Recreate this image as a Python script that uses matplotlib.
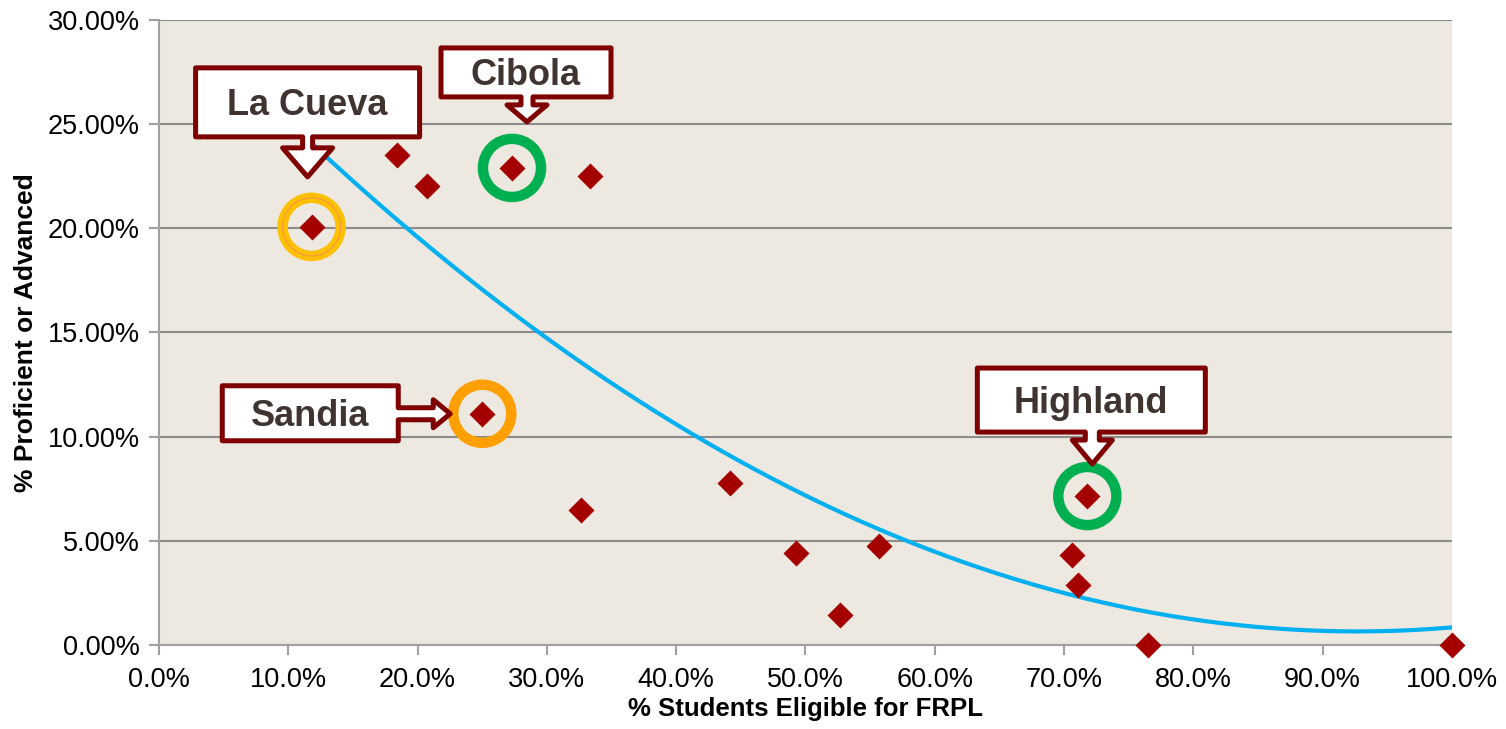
import numpy as np
import matplotlib
matplotlib.use('Agg')
import matplotlib.pyplot as plt
from matplotlib.patches import Polygon
from matplotlib.ticker import PercentFormatter
from matplotlib.transforms import ScaledTranslation

plt.rcParams['font.family'] = ['Liberation Sans', 'DejaVu Sans']

# Data: % eligible for FRPL vs % proficient or advanced
frpl = [11.8, 18.4, 20.7, 27.3, 33.3, 25.0, 32.6, 44.2, 49.3, 52.7, 55.7, 70.6, 71.1, 71.8, 76.5, 100.0]
prof = [20.07, 23.5, 22.05, 22.9, 22.5, 11.1, 6.5, 7.8, 4.4, 1.45, 4.75, 4.3, 2.9, 7.15, 0.0, 0.0]

# Highlighted schools: name, index into data, ring colour
schools = ['La Cueva', 'Cibola', 'Sandia', 'Highland']
school_idx = [0, 3, 5, 13]
ring_colors = ['#FFC000', '#00B050', '#FFA000', '#00B050']

x = np.array(frpl) / 100
y = np.array(prof) / 100

fig = plt.figure(figsize=(15.06, 7.29), dpi=100)
ax = fig.add_axes([0.1056, 0.1152, 0.9641 - 0.1056, 0.9726 - 0.1152])
ax.set_facecolor('#EDE8E0')

# quadratic trendline (as Excel)
coef = np.polyfit(x, y, 2)
xt = np.linspace(x.min(), x.max(), 200)
ax.plot(xt, np.polyval(coef, xt), color='#00B0F0', lw=3, zorder=3)

ax.plot(x, y, 'D', color='#A50000', ms=13.5, mec='none', zorder=4, clip_on=False)

# rings
for i, c in zip(school_idx, ring_colors):
    ax.scatter(x[i], y[i], s=1750, facecolors='none', edgecolors=c, lw=7.5, zorder=5)
ax.scatter(x[0], y[0], s=1750, facecolors='none', edgecolors='#F79646', lw=0.8, zorder=5)

ax.set_xlim(0, 1)
ax.set_ylim(0, 0.30)
ax.set_xticks(np.arange(0, 1.01, 0.1))
ax.set_yticks(np.arange(0, 0.301, 0.05))
ax.xaxis.set_major_formatter(PercentFormatter(1.0, decimals=1))
ax.yaxis.set_major_formatter(PercentFormatter(1.0, decimals=2))
ax.grid(axis='y', color='#8C8C8C', lw=1.5, zorder=1)
ax.set_axisbelow(True)
for s in ['top', 'right']:
    ax.spines[s].set_visible(False)
for s in ['left', 'bottom']:
    ax.spines[s].set_color('#A0A0A0')
    ax.spines[s].set_linewidth(1.5)
ax.tick_params(axis='both', direction='out', length=7, width=1.5, color='#A0A0A0',
               labelsize=19.5)
ax.tick_params(axis='y', pad=7)
ax.tick_params(axis='x', pad=9)
ax.set_xlabel('% Students Eligible for FRPL', fontsize=18.5, fontweight='bold', labelpad=3)
ax.set_ylabel('% Proficient or Advanced', fontsize=19, fontweight='bold', labelpad=7)


# Callouts: offsets in pixels relative to the point (image coords, y down)
def callout(i, text, box, arrow, kind='down'):
    x0, y0, x1, y1 = box
    if kind == 'down':
        ac, sw, hb, hw, tip = arrow
        pts = [(x0, y0), (x1, y0), (x1, y1), (ac + sw, y1), (ac + sw, hb), (ac + hw, hb),
               (ac, tip), (ac - hw, hb), (ac - sw, hb), (ac - sw, y1), (x0, y1)]
    else:
        ac, sw, hb, hw, tip = arrow
        pts = [(x0, y0), (x1, y0), (x1, ac - sw), (hb, ac - sw), (hb, ac - hw), (tip, ac),
               (hb, ac + hw), (hb, ac + sw), (x1, ac + sw), (x1, y1), (x0, y1)]
    tr = fig.dpi_scale_trans + ScaledTranslation(x[i], y[i], ax.transData)
    pts = [(px / 100, -py / 100) for px, py in pts]
    ax.add_patch(Polygon(pts, closed=True, transform=tr, facecolor='white',
                         edgecolor='#7F0000', lw=3.6, joinstyle='round', zorder=6,
                         clip_on=False))
    ax.text((x0 + x1) / 200, -((y0 + y1) / 2 + 3) / 100, text, transform=tr, ha='center',
            va='center', fontsize=26, fontweight='bold', color='#3F3430', zorder=7)


callout(0, 'La Cueva', (-116, -159, 108, -90), (-4, 5, -79, 25, -50))
callout(3, 'Cibola', (-71, -120, 99, -71), (15, 6, -63, 20, -46))
callout(5, 'Sandia', (-260, -28, -84, 27), (0, 6, -49, 14, -32), kind='right')
callout(13, 'Highland', (-110, -128, 118, -64), (5, 7, -56, 20, -32))

fig.savefig('out.png', dpi=100)
plt.close()
